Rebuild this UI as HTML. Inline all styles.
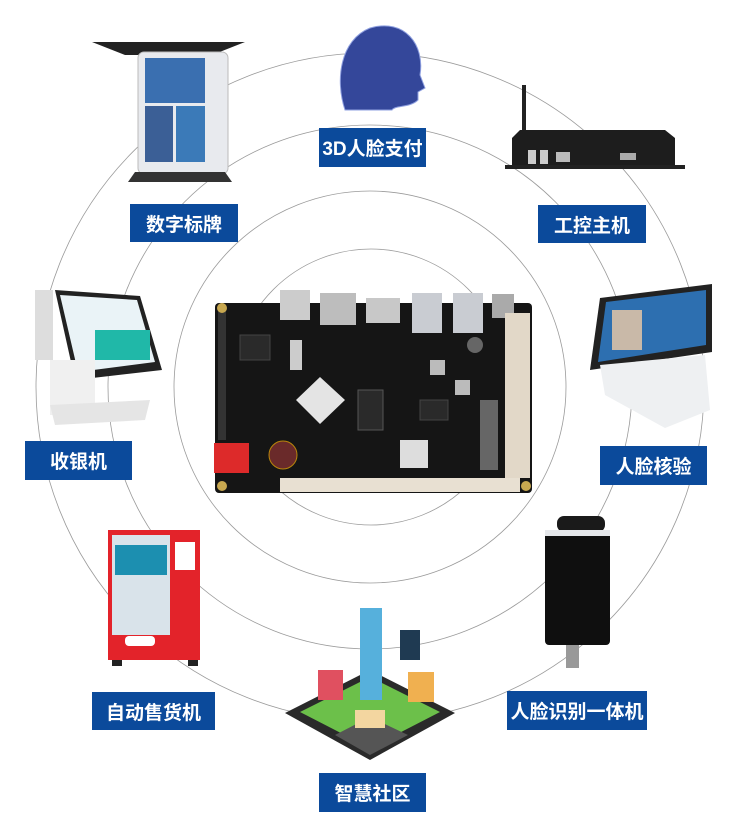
<!DOCTYPE html>
<html><head><meta charset="utf-8"><style>
body{margin:0;width:750px;height:823px;background:#fff;overflow:hidden;position:relative;font-family:"Liberation Sans","Noto Sans CJK SC",sans-serif}
.l{position:absolute;background:#0b4a9b;color:#fff;font-weight:bold;font-size:19px;display:flex;align-items:center;justify-content:center;white-space:nowrap}
svg{position:absolute;left:0;top:0}
</style></head><body>
<svg width="750" height="823">
<g fill="none" stroke="#9a9a9a" stroke-width="0.8">
<circle cx="370" cy="387" r="334"/>
<circle cx="370" cy="387" r="262"/>
<circle cx="370" cy="387" r="196"/>
<circle cx="371" cy="387" r="138"/>
</g>
<path d="M345 110 C335 80 340 40 370 28 C405 18 425 45 420 75 L425 88 L418 92 L418 100 C410 108 395 105 392 110 Z" fill="#34479a" stroke="#8fa0e0" stroke-width="1"/>
<polygon points="92,42 245,42 212,55 125,55" fill="#222"/>
<rect x="138" y="52" width="90" height="122" rx="6" fill="#e8eaee" stroke="#bbb"/>
<rect x="145" y="58" width="60" height="45" fill="#3a6fb0"/>
<rect x="145" y="106" width="28" height="56" fill="#3b5f96"/><rect x="176" y="106" width="29" height="56" fill="#3b7ab8"/>
<polygon points="135,172 225,172 232,182 128,182" fill="#333"/>
<rect x="522" y="85" width="4" height="50" fill="#222"/>
<polygon points="520,130 665,130 675,138 675,168 512,168 512,138" fill="#1d1d1d"/>
<rect x="505" y="165" width="180" height="4" fill="#222"/>
<rect x="528" y="150" width="8" height="14" fill="#ccc"/><rect x="540" y="150" width="8" height="14" fill="#ccc"/><rect x="556" y="152" width="14" height="10" fill="#bbb"/><rect x="620" y="153" width="16" height="7" fill="#aaa"/>
<polygon points="55,290 140,296 162,370 75,380" fill="#222"/>
<polygon points="60,295 137,300 155,362 78,372" fill="#eaf3f7"/>
<rect x="95" y="330" width="55" height="30" fill="#20b8a8"/>
<rect x="35" y="290" width="18" height="70" fill="#ddd"/>
<rect x="50" y="360" width="45" height="55" fill="#f0f0f0"/>
<polygon points="50,405 150,400 145,420 55,425" fill="#e5e5e5"/>
<polygon points="600,298 712,284 712,352 590,370" fill="#222"/>
<polygon points="606,302 706,290 706,345 598,362" fill="#2d6fb0"/>
<rect x="612" y="310" width="30" height="40" fill="#c9b9a8"/>
<polygon points="600,365 705,355 710,410 665,428 605,395" fill="#eef0f2"/>
<rect x="108" y="530" width="92" height="130" fill="#e3232a"/>
<rect x="112" y="535" width="58" height="100" fill="#d9e3ea"/>
<rect x="115" y="545" width="52" height="30" fill="#1c8fb0"/>
<rect x="175" y="542" width="20" height="28" fill="#fff"/>
<rect x="125" y="636" width="30" height="10" rx="4" fill="#fff"/>
<rect x="112" y="660" width="10" height="6" fill="#222"/><rect x="188" y="660" width="10" height="6" fill="#222"/>
<rect x="557" y="516" width="48" height="16" rx="7" fill="#1a1a1a"/>
<rect x="545" y="530" width="65" height="115" rx="4" fill="#0f0f0f"/>
<rect x="545" y="530" width="65" height="6" fill="#e5e7ea"/>
<rect x="566" y="645" width="13" height="23" fill="#999"/>
<polygon points="285,713 370,670 455,713 370,760" fill="#2a2a2a"/>
<polygon points="300,712 370,677 440,712 370,748" fill="#6cc04a"/>
<polygon points="335,735 370,717 408,735 370,755" fill="#555"/>
<rect x="360" y="608" width="22" height="92" fill="#56b0dc"/>
<rect x="400" y="630" width="20" height="30" fill="#1f3a52"/>
<rect x="318" y="670" width="25" height="30" fill="#e05060"/>
<rect x="408" y="672" width="26" height="30" fill="#f0b050"/>
<rect x="355" y="710" width="30" height="18" fill="#f3d6a0"/>
<rect x="215" y="303" width="317" height="190" rx="4" fill="#151515"/>
<rect x="280" y="290" width="30" height="30" fill="#ccc"/><rect x="320" y="293" width="36" height="32" fill="#bdbdbd"/>
<rect x="366" y="298" width="34" height="25" fill="#c8c8c8"/><rect x="412" y="293" width="30" height="40" fill="#c9ccd2"/>
<rect x="453" y="293" width="30" height="40" fill="#c9ccd2"/><rect x="492" y="294" width="22" height="24" fill="#aaa"/>
<polygon points="320,377 345,400 320,424 296,400" fill="#e4e4e4"/>
<rect x="358" y="390" width="25" height="40" fill="#2a2a2a" stroke="#555"/>
<rect x="400" y="440" width="28" height="28" fill="#ddd"/>
<rect x="290" y="340" width="12" height="30" fill="#ccc"/>
<rect x="240" y="335" width="30" height="25" fill="#2a2a2a" stroke="#444"/>
<rect x="420" y="400" width="28" height="20" fill="#2a2a2a" stroke="#444"/>
<rect x="430" y="360" width="15" height="15" fill="#bbb"/><rect x="455" y="380" width="15" height="15" fill="#bbb"/>
<circle cx="475" cy="345" r="8" fill="#666"/>
<rect x="480" y="400" width="18" height="70" fill="#666"/>
<rect x="214" y="443" width="35" height="30" fill="#dd2a2a"/>
<circle cx="283" cy="455" r="14" fill="#6a2a2a" stroke="#b8860b"/>
<rect x="505" y="313" width="25" height="165" fill="#e2d8c8"/>
<rect x="280" y="478" width="240" height="14" fill="#e8e0d2"/>
<rect x="218" y="305" width="8" height="135" fill="#333"/>
<circle cx="222" cy="308" r="5" fill="#c8a850"/><circle cx="222" cy="486" r="5" fill="#c8a850"/><circle cx="526" cy="486" r="5" fill="#c8a850"/>
</svg>
<div class="l" style="left:319px;top:128px;width:107px;height:39px">3D人脸支付</div>
<div class="l" style="left:130px;top:204px;width:108px;height:38px">数字标牌</div>
<div class="l" style="left:538px;top:205px;width:108px;height:38px">工控主机</div>
<div class="l" style="left:25px;top:441px;width:107px;height:39px">收银机</div>
<div class="l" style="left:600px;top:446px;width:107px;height:39px">人脸核验</div>
<div class="l" style="left:92px;top:692px;width:123px;height:38px">自动售货机</div>
<div class="l" style="left:507px;top:691px;width:140px;height:39px">人脸识别一体机</div>
<div class="l" style="left:319px;top:773px;width:107px;height:39px">智慧社区</div>
</body></html>
